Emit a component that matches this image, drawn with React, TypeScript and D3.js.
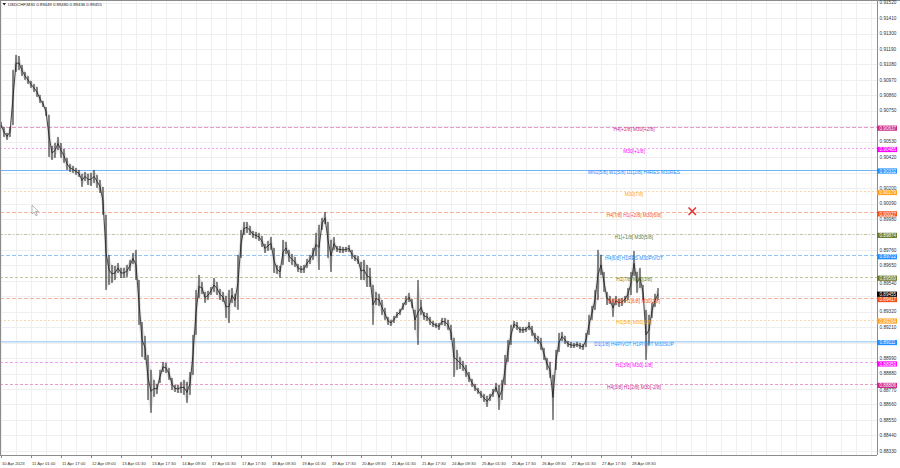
import React from 'react';
import * as d3 from 'd3';

const W = 900;
const H = 468;
const PLOT_R = 877;
const PLOT_B = 455;

const symbolTitle = 'USDCHF,M30';
const headerOHLC = ['0.89449', '0.89480', '0.89436', '0.89455'];
const lastPrice = 0.89455;

// candle highs / lows (each candle ~1.6h aggregated from the M30 picture)
const highs = [
  0.90671, 0.90635, 0.90592, 0.90635, 0.91041, 0.91148, 0.9114, 0.91076, 0.91027, 0.90998,
  0.90963, 0.90941, 0.9092, 0.90863, 0.9082, 0.90777, 0.90721, 0.905, 0.90521, 0.90564,
  0.90521, 0.90479, 0.90415, 0.90372, 0.90358, 0.90343, 0.90329, 0.90301, 0.90315, 0.90301,
  0.90308, 0.90329, 0.90294, 0.90258, 0.90208, 0.90009, 0.89724, 0.89653, 0.89646, 0.89667,
  0.89632, 0.89632, 0.89653, 0.89689, 0.89738, 0.8976, 0.89546, 0.89247, 0.89148, 0.89012,
  0.88906, 0.88835, 0.88806, 0.88906, 0.88963, 0.88956, 0.8892, 0.88849, 0.88799, 0.88799,
  0.8882, 0.88835, 0.8882, 0.88891, 0.89155, 0.89475, 0.89582, 0.89532, 0.89461, 0.89468,
  0.89496, 0.8956, 0.89532, 0.89482, 0.89461, 0.89432, 0.89475, 0.89489, 0.89447, 0.89724,
  0.89902, 0.89959, 0.89959, 0.89931, 0.89895, 0.89888, 0.89881, 0.89859, 0.89802, 0.89824,
  0.89852, 0.89774, 0.89653, 0.89646, 0.89831, 0.89817, 0.8976, 0.89731, 0.8971, 0.8966,
  0.89646, 0.89653, 0.89696, 0.89724, 0.89774, 0.89881, 0.89938, 0.89988, 0.9003, 0.89959,
  0.89831, 0.89852, 0.89788, 0.89788, 0.89781, 0.89781, 0.89795, 0.8976, 0.89724, 0.89717,
  0.89674, 0.89689, 0.89653, 0.89632, 0.89511, 0.89461, 0.89447, 0.89404, 0.89347, 0.89283,
  0.89262, 0.8929, 0.89318, 0.8934, 0.89383, 0.89432, 0.89454, 0.89411, 0.89333, 0.89546,
  0.89404, 0.89318, 0.89311, 0.89283, 0.89254, 0.8924, 0.8924, 0.89276, 0.89276, 0.89262,
  0.89226, 0.89134, 0.89048, 0.88998, 0.8897, 0.88941, 0.88891, 0.88842, 0.88806, 0.88778,
  0.88756, 0.88735, 0.88721, 0.88735, 0.8877, 0.88813, 0.88799, 0.88835, 0.89012, 0.89119,
  0.89226, 0.89254, 0.89247, 0.89212, 0.89212, 0.89212, 0.89247, 0.89219, 0.89169, 0.89148,
  0.89134, 0.89062, 0.88991, 0.88963, 0.8887, 0.89048, 0.89169, 0.89176, 0.89148, 0.89112,
  0.89105, 0.89098, 0.89105, 0.89098, 0.89091, 0.89169, 0.89297, 0.89361, 0.89475, 0.8976,
  0.89724, 0.89603, 0.89461, 0.89432, 0.89411, 0.89432, 0.89411, 0.89418, 0.89432, 0.89489,
  0.89603, 0.89753, 0.89603, 0.89632, 0.89511, 0.89333, 0.89297, 0.89383, 0.89447, 0.89489,
];
const lows = [
  0.90628, 0.90564, 0.90543, 0.90564, 0.90649, 0.91027, 0.91041, 0.90998, 0.9097, 0.90941,
  0.90913, 0.90884, 0.90849, 0.90806, 0.90777, 0.90713, 0.90422, 0.904, 0.90415, 0.90471,
  0.90415, 0.90379, 0.90329, 0.90315, 0.90308, 0.90294, 0.90279, 0.90208, 0.90251, 0.90222,
  0.90215, 0.90237, 0.90201, 0.90165, 0.90009, 0.89475, 0.89511, 0.89525, 0.89546, 0.89596,
  0.8956, 0.8956, 0.89568, 0.8961, 0.8966, 0.89546, 0.89226, 0.88998, 0.88977, 0.88692,
  0.886, 0.88714, 0.88735, 0.88813, 0.88891, 0.88884, 0.88835, 0.88763, 0.88749, 0.88742,
  0.88742, 0.88728, 0.88671, 0.88728, 0.8887, 0.89155, 0.89418, 0.89447, 0.89383, 0.89404,
  0.89439, 0.89461, 0.89439, 0.89404, 0.8939, 0.89276, 0.8924, 0.89383, 0.89354, 0.89333,
  0.89703, 0.89866, 0.89881, 0.89866, 0.89845, 0.89838, 0.89824, 0.89781, 0.89738, 0.89753,
  0.8976, 0.89596, 0.89589, 0.8956, 0.89653, 0.89731, 0.89674, 0.89653, 0.89639, 0.89603,
  0.89596, 0.89596, 0.89632, 0.8966, 0.89689, 0.89717, 0.89617, 0.89902, 0.89945, 0.89703,
  0.89603, 0.8976, 0.89745, 0.89738, 0.89738, 0.89745, 0.89745, 0.89696, 0.89681, 0.8966,
  0.89546, 0.89546, 0.89496, 0.89496, 0.89226, 0.89368, 0.89361, 0.89297, 0.89262, 0.89226,
  0.89219, 0.8924, 0.89276, 0.89297, 0.89333, 0.89368, 0.8939, 0.89347, 0.8919, 0.89084,
  0.89297, 0.89262, 0.89254, 0.89226, 0.89212, 0.89205, 0.8919, 0.89226, 0.89219, 0.8919,
  0.89119, 0.88856, 0.88906, 0.88913, 0.88899, 0.88856, 0.8882, 0.88785, 0.88756, 0.88735,
  0.88706, 0.88678, 0.88642, 0.88685, 0.88714, 0.88749, 0.88621, 0.88692, 0.88799, 0.88963,
  0.89084, 0.89205, 0.8919, 0.89169, 0.89169, 0.89176, 0.8919, 0.89148, 0.89105, 0.89091,
  0.89048, 0.88977, 0.88906, 0.88849, 0.8855, 0.88906, 0.89034, 0.89112, 0.89091, 0.89069,
  0.89062, 0.89062, 0.89069, 0.89055, 0.89048, 0.89069, 0.89155, 0.89262, 0.89333, 0.89404,
  0.89582, 0.89461, 0.89368, 0.89375, 0.89283, 0.89368, 0.89354, 0.89361, 0.89383, 0.89404,
  0.89439, 0.89575, 0.89454, 0.89489, 0.89404, 0.88977, 0.89084, 0.89276, 0.89354, 0.89404,
];

const priceTicks = [
  0.9152, 0.9141, 0.913, 0.9119, 0.9108, 0.9097, 0.9086, 0.9075, 0.9064, 0.9053,
  0.9042, 0.9031, 0.902, 0.9009, 0.8998, 0.8987, 0.8976, 0.8965, 0.8954, 0.8943,
  0.8932, 0.8921, 0.891, 0.8899, 0.8888, 0.8877, 0.8866, 0.8855, 0.8844, 0.8833,
];

const dateLabels = [
  '10 Apr 2023', '11 Apr 01:00', '11 Apr 17:00', '12 Apr 09:00', '13 Apr 01:30', '13 Apr 17:30',
  '14 Apr 09:30', '17 Apr 01:30', '17 Apr 17:30', '18 Apr 09:30', '19 Apr 01:30', '19 Apr 17:30',
  '20 Apr 09:30', '21 Apr 01:30', '21 Apr 17:30', '24 Apr 09:30', '25 Apr 01:30', '25 Apr 17:30',
  '26 Apr 09:30', '27 Apr 01:30', '27 Apr 17:30', '28 Apr 09:30',
];

const levelPrices = [
  0.90637, 0.90485, 0.90332, 0.90179, 0.90027, 0.89874, 0.89722,
  0.89569, 0.89417, 0.89264, 0.89111, 0.88959, 0.88806,
];
const levelNames = [
  'H4[+1/8] M30[+2/8]',
  'M30[+1/8]',
  'MN1[5/8] W1[5/8] D1[2/8] H4RES M30RES',
  'M30[7/8]',
  'H4[7/8] H1[+2/8] M30[6/8]',
  'H1[+1/8] M30[5/8]',
  'H4[6/8] H1RES M30PIVOT',
  'H1[7/8] M30[3/8]',
  'H4[5/8] H1[6/8] M30[2/8]',
  'H1[5/8] M30[1/8]',
  'D1[1/8] H4PIVOT H1PIVOT M30SUP',
  'H1[3/8] M30[-1/8]',
  'H4[3/8] H1[2/8] M30[-2/8]',
];
const levelColors = [
  '#cc2a8c', '#ff00ff', '#1e90ff', '#ffa020', '#f4511e', '#667a2e', '#1e90ff',
  '#667a2e', '#f4511e', '#ffa020', '#1e90ff', '#ff00ff', '#cc2a8c',
];
const lineColors = [
  '#eb9cc5', '#f3a0f3', '#72b6f7', '#f8d9ae', '#f7b49c', '#c2c4a2', '#93c5f7',
  '#c2c4a2', '#f7b49c', '#f8d9ae', '#b2d6f9', '#f3a0f3', '#eb9cc5',
];
const levelDash = [
  '4,2', '2,2', '', '2,2', '4,2', '3,2,1,2', '4,2', '3,2', '4,2', '2,2', '', '3,2', '3,2',
];

const FONT = '"Liberation Sans", Arial, sans-serif';

export default function App() {
  const n = highs.length;
  const y = d3.scaleLinear().domain([0.8833, 0.9152]).range([450.8, 2.6]);
  const x = d3.scaleLinear().domain([0, n - 1]).range([1, 658]);
  const gridIdx = d3.range(0, 400, 5).filter((i) => x(i) > 0 && x(i) < PLOT_R);
  const labelX = 634;
  const BOX_OFF = 1.5;
  const BOX_H = 5.2;
  const crisp = (v: number) => Math.round(v) + 0.5;

  const band = d3
    .area<number>()
    .x((_, i) => x(i))
    .y0((_, i) => y(lows[i]))
    .y1((d) => y(d))
    .curve(d3.curveLinear)(highs) as string;

  const mid = d3
    .line<number>()
    .x((_, i) => x(i))
    .y((d, i) => y((d + lows[i]) / 2))
    .curve(d3.curveLinear)(highs) as string;

  const boxCenters = [...levelPrices, lastPrice].map((p) => y(p) + BOX_OFF);
  const tickItems = priceTicks
    .map((p) => {
      let cy = y(p);
      let hidden = false;
      for (const bc of boxCenters) {
        const d = cy - bc;
        if (Math.abs(d) < 2.5) hidden = true;
        else if (Math.abs(d) < 4.6) cy = bc + (d > 0 ? 4.6 : -4.6);
      }
      return { p, cy, hidden };
    })
    .filter((t) => !t.hidden && t.cy > 1);

  return (
    <svg width={W} height={H} style={{ display: 'block', position: 'absolute', left: 0, top: 0, background: '#fff' }}>
      <rect x={0} y={0} width={W} height={H} fill="#fff" />
      {/* grid */}
      <g stroke="#efefef" strokeWidth={1}>
        {gridIdx.map((i) => (
          <line key={'gv' + i} x1={crisp(x(i))} x2={crisp(x(i))} y1={0} y2={PLOT_B} />
        ))}
        {priceTicks.map((p) => (
          <line key={'gh' + p} x1={0} x2={PLOT_R} y1={crisp(y(p))} y2={crisp(y(p))} />
        ))}
      </g>
      {/* levels */}
      {levelPrices.map((p, i) => (
        <line
          key={'lv' + i}
          x1={0}
          x2={PLOT_R}
          y1={crisp(y(p))}
          y2={crisp(y(p))}
          stroke={lineColors[i]}
          strokeWidth={1}
          strokeDasharray={levelDash[i] || undefined}
        />
      ))}
      {levelPrices.map((p, i) =>
        i === 10 ? (
          <line key="lvw" x1={0} x2={PLOT_R} y1={crisp(y(p)) + 1} y2={crisp(y(p)) + 1} stroke={lineColors[i]} strokeOpacity={0.5} strokeWidth={1} />
        ) : null,
      )}
      {/* price bars */}
      <path d={band} fill="#a0a0a0" fillOpacity={0.3} />
      <path d={mid} fill="none" stroke="#333" strokeWidth={0.9} strokeLinejoin="round" />
      <g stroke="#1e1e1e" strokeWidth={1}>
        {highs.map((h, i) => (
          <line key={'cl' + i} x1={x(i)} x2={x(i)} y1={y(h)} y2={y(lows[i])} />
        ))}
      </g>
      {/* level labels */}
      {levelPrices.map((p, i) => (
        <text
          key={'lt' + i}
          x={labelX}
          y={y(p) + 4.7}
          textAnchor="middle"
          fontFamily={FONT}
          fontSize={4.8}
          fill={levelColors[i]}
        >
          {levelNames[i]}
        </text>
      ))}
      {/* cursor */}
      <path d="M32,205 L32,214 L34.2,212 L36,215.8 L37.3,215.2 L35.6,211.5 L38.5,211.5 Z" fill="#fff" stroke="#8a8a8a" strokeWidth={0.6} />
      {/* red cross */}
      <g stroke="#e53935" strokeWidth={1.7} strokeLinecap="round">
        <line x1={689} y1={208} x2={695.5} y2={214.5} />
        <line x1={695.5} y1={208} x2={689} y2={214.5} />
      </g>
      {/* frame */}
      <line x1={0} x2={W} y1={0.5} y2={0.5} stroke="#8c8c8c" />
      <line x1={0.5} x2={0.5} y1={0} y2={PLOT_B} stroke="#8c8c8c" />
      <line x1={PLOT_R + 0.5} x2={PLOT_R + 0.5} y1={0} y2={PLOT_B} stroke="#8c8c8c" />
      <line x1={0} x2={PLOT_R} y1={PLOT_B + 0.5} y2={PLOT_B + 0.5} stroke="#8c8c8c" />
      {/* price axis */}
      {tickItems.map((t) => (
        <text key={'pt' + t.p} x={879.5} y={t.cy + 1.7} fontFamily={FONT} fontSize={4.7} fill="#333">
          {d3.format('.5f')(t.p)}
        </text>
      ))}
      {levelPrices.map((p, i) => (
        <g key={'lb' + i}>
          <rect x={877} y={y(p) + BOX_OFF - BOX_H / 2} width={20} height={BOX_H} fill={levelColors[i]} />
          <text x={879.5} y={y(p) + BOX_OFF + 1.7} fontFamily={FONT} fontSize={4.6} fill="#fff">
            {d3.format('.5f')(p)}
          </text>
        </g>
      ))}
      <g>
        <rect x={877} y={y(lastPrice) + BOX_OFF - BOX_H / 2} width={20} height={BOX_H} fill="#000" />
        <text x={879.5} y={y(lastPrice) + BOX_OFF + 1.7} fontFamily={FONT} fontSize={4.6} fill="#fff">
          {d3.format('.5f')(lastPrice)}
        </text>
      </g>
      {/* date axis */}
      {dateLabels.map((d, i) => (
        <g key={'dl' + i}>
          <line x1={crisp(x(i * 10))} x2={crisp(x(i * 10))} y1={PLOT_B} y2={PLOT_B + 3} stroke="#8c8c8c" />
          <text x={x(i * 10) + 1} y={464.5} fontFamily={FONT} fontSize={4.2} fill="#333">
            {d}
          </text>
        </g>
      ))}
      {/* header */}
      <path d="M2.5,3 L6,3 L4.25,5.5 Z" fill="#222" />
      <text x={8} y={5.7} fontFamily={FONT} fontSize={4.3} fill="#222">
        {symbolTitle + '  ' + headerOHLC.join(' ')}
      </text>
    </svg>
  );
}
